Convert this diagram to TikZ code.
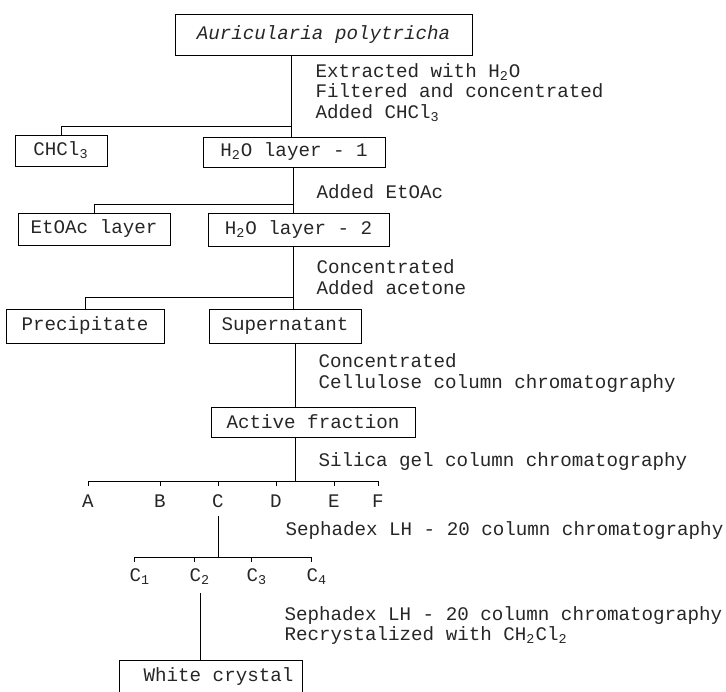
\documentclass[tikz,border=0pt]{standalone}
\usepackage{fontspec}
\setmainfont{Liberation Mono}
\setmonofont{Liberation Mono}

\tikzset{
  box/.style={draw, line width=0.5pt, inner sep=0pt},
  note/.style={anchor=west, align=left, inner sep=0pt},
  frac/.style={inner sep=0pt}
}

\begin{document}
\begin{tikzpicture}[x=0.5pt, y=-0.5pt, line width=0.5pt,
  every node/.style={font=\fontsize{9.6}{10.3}\selectfont, text=black!85}]
\useasboundingbox (0,0) rectangle (726,691);

% boxes
\node[box, minimum width=148.5pt, minimum height=20.5pt] (top) at (323.5,34.5) {\itshape Auricularia polytricha};
\node[box, minimum width=46pt, minimum height=15.5pt] (chcl) at (61,150.5) {CHCl\textsubscript{3}};
\node[box, minimum width=91pt, minimum height=15pt] (h1) at (294,152) {H\textsubscript{2}O layer - 1};
\node[box, minimum width=76pt, minimum height=16pt] (etoac) at (94,229) {EtOAc layer};
\node[box, minimum width=90.5pt, minimum height=16.5pt] (h2) at (298.5,229.5) {H\textsubscript{2}O layer - 2};
\node[box, minimum width=79pt, minimum height=17pt] (prec) at (85,326) {Precipitate};
\node[box, minimum width=76pt, minimum height=17pt] (sup) at (285,326) {Supernatant};
\node[box, minimum width=102pt, minimum height=15pt] (act) at (313,422) {Active fraction};
\node[box, minimum width=91.5pt, minimum height=17pt] (white) at (210.5,677) {\hspace{8pt}White crystal};

% fractions
\node[frac] (A) at (88,501) {A};
\node[frac] (B) at (160,501) {B};
\node[frac] (C) at (218,501) {C};
\node[frac] (D) at (276,501) {D};
\node[frac] (E) at (334,501) {E};
\node[frac] (F) at (378,501) {F};
\node[frac] (c1) at (140,577) {C\textsubscript{1}};
\node[frac] (c2) at (200,577) {C\textsubscript{2}};
\node[frac] (c3) at (257,577) {C\textsubscript{3}};
\node[frac] (c4) at (317,577) {C\textsubscript{4}};

% steps
\node[note] (s1) at (315,92.5) {Extracted with H\textsubscript{2}O\\Filtered and concentrated\\Added CHCl\textsubscript{3}};
\node[note] (s2) at (316,192) {Added EtOAc};
\node[note] (s3) at (316,277) {Concentrated\\Added acetone};
\node[note] (s4) at (318,373) {Concentrated\\Cellulose column chromatography};
\node[note] (s5) at (318,462) {Silica gel column chromatography};
\node[note] (s6) at (285,531) {Sephadex LH - 20 column chromatography};
\node[note] (s7) at (284,625.5) {Sephadex LH - 20 column chromatography\\Recrystalized with CH\textsubscript{2}Cl\textsubscript{2}};

% junctions
\coordinate (j1) at (291,126);
\coordinate (j2) at (293,204);
\coordinate (j3) at (293,297);
\coordinate (j4) at (295,481);
\coordinate (j5) at (218,557);

\draw (top.south -| j1) -- (h1.north -| j1);
\draw (j1) -| (chcl.north);
\draw (h1.south -| j2) -- (h2.north -| j2);
\draw (j2) -| (etoac.north);
\draw (h2.south -| j3) -- (sup.north -| j3);
\draw (j3) -| (prec.north);
\draw (sup.south -| j4) -- (act.north -| j4);
\draw (act.south -| j4) -- (j4);
\draw (A |- j4) -- (F |- j4);
\foreach \f in {A,B,C,D,E,F}
  \draw (\f |- j4) -- ++(0,5);
\draw ([yshift=-4pt]C.south -| j5) -- (j5);
\draw ([xshift=-3pt]c1.north |- j5) -- ([xshift=-3pt]c4.north |- j5);
\foreach \c in {c1,c2,c3,c4}
  \draw ([xshift=-3pt]\c.north |- j5) -- ++(0,5);
\draw ([yshift=-4pt]c2.south) -- (c2.south |- white.north);
\end{tikzpicture}
\end{document}
